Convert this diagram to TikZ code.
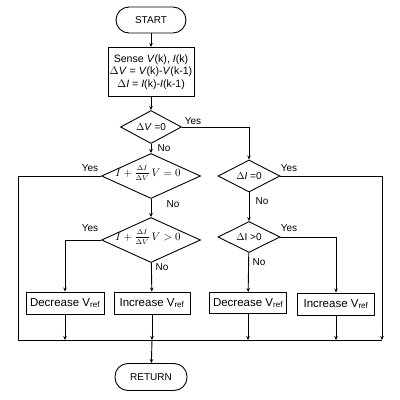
\documentclass[tikz,border=0pt]{standalone}
\usepackage{fontspec}
\setmainfont{Liberation Sans}
\usetikzlibrary{shapes.geometric,arrows.meta}
\newcommand{\myfrac}{\frac{\raisebox{1.2pt}{$\scriptstyle\Delta I$}}{\raisebox{-1.2pt}{$\scriptstyle\Delta V$}}}
\begin{document}
\begin{tikzpicture}[x=1pt,y=-1pt,
  font=\fontsize{10}{12.5}\selectfont,
  line width=0.9pt,
  arr/.style={-{Stealth[length=4pt,width=3.5pt]}},
  term/.style={draw,rounded corners=13pt,minimum width=70pt,minimum height=26pt,inner sep=0pt},
  proc/.style={draw,inner sep=1pt,align=center},
  boxf/.style={font=\fontsize{11.5}{13}\selectfont},
  dec/.style={draw,diamond,inner sep=0pt,aspect=2.2},
  lbl/.style={inner sep=0pt}]
\useasboundingbox (0,0) rectangle (400,400);
% nodes
\node[term] (start) at (151,20) {START};
\node[proc,minimum width=86pt,minimum height=49pt,font=\fontsize{10.6}{12.5}\selectfont] (sense) at (151,72)
  {Sense \textit{V}(k), \textit{I}(k)\\ $\Delta$\textit{V} = \textit{V}(k)-\textit{V}(k-1)\\ $\Delta$\textit{I} = \textit{I}(k)-\textit{I}(k-1)};
\node[dec,minimum width=61pt,minimum height=33pt] (d1) at (151,127) {$\Delta$\textit{V} =0};
\node[dec,minimum width=99pt,minimum height=45pt,font=\fontsize{10.5}{13}\selectfont] (d2) at (151,176)
  {\makebox[40pt]{\smash{\hspace*{-6pt}$I+\myfrac\,V=0$}}};
\node[dec,minimum width=99pt,minimum height=45pt,font=\fontsize{10.5}{13}\selectfont] (d3) at (151,240)
  {\makebox[40pt]{\smash{\hspace*{-6pt}$I+\myfrac\,V>0$}}};
\node[dec,minimum width=62pt,minimum height=32pt] (d4) at (249,176) {$\Delta$\textit{I} =0};
\node[dec,minimum width=62pt,minimum height=31pt] (d5) at (249,237) {$\Delta$I >0};
\node[proc,boxf,minimum width=78pt,minimum height=22pt] (b1) at (65,303) {Decrease V\textsubscript{ref}};
\node[proc,boxf,minimum width=76pt,minimum height=22pt] (b2) at (152,303) {Increase V\textsubscript{ref}};
\node[proc,boxf,minimum width=77pt,minimum height=21pt] (b3) at (248,303) {Decrease V\textsubscript{ref}};
\node[proc,boxf,minimum width=77pt,minimum height=22pt] (b4) at (336,304) {Increase V\textsubscript{ref}};
\node[term,minimum width=72pt,minimum height=27pt] (ret) at (151,377) {RETURN};
\coordinate (L) at (18,340);
\coordinate (R) at (382,340);
% labels
\node[lbl] (y1) at (193,121) {Yes};
\node[lbl] (n1) at (164,148) {No};
\node[lbl] (y2) at (90,168) {Yes};
\node[lbl] (n2) at (173,204) {No};
\node[lbl] (y3) at (90,228) {Yes};
\node[lbl] (n3) at (162,267) {No};
\node[lbl] (y4) at (289,168) {Yes};
\node[lbl] (n4) at (262,201) {No};
\node[lbl] (y5) at (289,228) {Yes};
\node[lbl] (n5) at (259,262) {No};
% connectors
\draw[arr] (start) -- (sense);
\draw[arr] (sense) -- (d1);
\draw[arr] (d1) -- (d2);
\draw[arr] (d1.east) -| (d4.north);
\draw[arr] (d2) -- (d3);
\draw (d2.west) -| (L);
\draw[arr] (d3.west) -| (b1.north);
\draw[arr] (d3) -- (b2);
\draw[arr] (d4.east) -| (R);
\draw[arr] (d4) -- (d5);
\draw[arr] (d5.east) -| (b4.north);
\draw[arr] (d5) -- (b3);
\draw (L) -- (R);
\draw[arr] (b1) -- (b1 |- L);
\draw[arr] (b2) -- (b2 |- L);
\draw[arr] (b3) -- (b3 |- L);
\draw[arr] (b4) -- (b4 |- L);
\draw[arr] (b2 |- L) -- (ret);
\end{tikzpicture}
\end{document}
